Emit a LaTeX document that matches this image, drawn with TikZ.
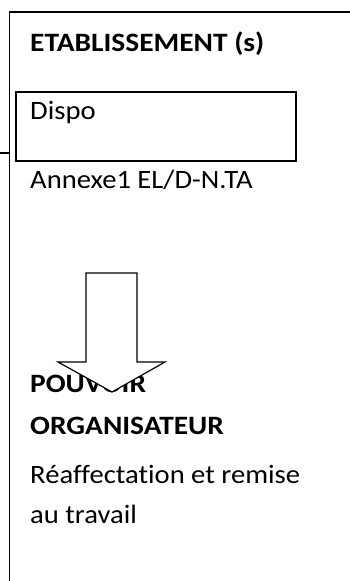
\documentclass[tikz,border=0pt]{standalone}
\usepackage{fontspec}
\setmainfont[FakeStretch=1.08, BoldFeatures={FakeStretch=1.11}, Ligatures=NoCommon]{Carlito}
\begin{document}
\begin{tikzpicture}[x=1pt,y=-1pt,
  txt/.style={anchor=base west, inner sep=0pt, font=\fontsize{26.5}{30}\selectfont},
  boldtxt/.style={txt, font=\fontsize{26.5}{30}\selectfont\bfseries},
  frameline/.style={line width=1.2pt},
  boxline/.style={draw, line width=1.6pt},
  bigarrow/.style={draw, fill=white, line width=1.2pt, line join=miter}]
\useasboundingbox (0,0) rectangle (350,581);
\coordinate (frTR) at (350,12);
\coordinate (frTL) at (9.5,12);
\coordinate (frBL) at (9.5,581);
\draw[frameline] (frTR) -- (frTL) -- (frBL);
\coordinate (stubL) at (0,153);
\coordinate (stubR) at (9.5,153);
\draw[line width=1.6pt] (stubL) -- (stubR);
\node[boxline, minimum width=280pt, minimum height=69pt, anchor=north west, inner sep=0pt] (dispobox) at (15,91) {};
\node[boldtxt] (etab) at (30,51.5) {ETABLISSEMENT (s)};
\node[txt] (dispo) at (30,119) {Dispo};
\node[txt] (annexe) at (30,188) {Annexe1 EL/D-N.TA};
\node[boldtxt] (pouvoir) at (30,392) {POUVOIR};
\node[boldtxt] (organ) at (30,434) {ORGANISATEUR};
\node[txt] (reaff) at (30,483) {Réaffectation et remise};
\node[txt] (travail) at (30,523) {au travail};
\draw[bigarrow] (86,273) -- (137,273) -- (137,362) -- (165,362) -- (112,392) -- (58,362) -- (86,362) -- cycle;
\end{tikzpicture}
\end{document}
